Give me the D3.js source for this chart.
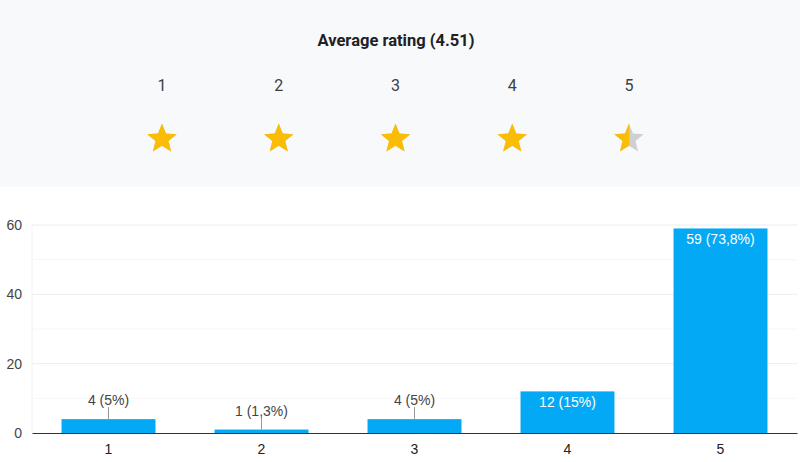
<!DOCTYPE html>
<html>
<head>
<meta charset="utf-8">
<script src="https://cdn.jsdelivr.net/npm/d3@7"></script>
<style>
  body { margin: 0; background: #fff; }
  svg { display: block; font-family: Arial, "Liberation Sans", sans-serif; }
</style>
</head>
<body>
<div id="vis-container"></div>
<script>
// data
var categories = ["1", "2", "3", "4", "5"];
var counts = [4, 1, 4, 12, 59];
var percentLabels = ["5%", "1,3%", "5%", "15%", "73,8%"];
var yTicks = [0, 20, 40, 60];
var minorTicks = [10, 30, 50];
var averageRating = 4.51;

// svg container
var width = 800;
var height = 462;

var svg = d3.select("#vis-container")
  .append("svg")
  .attr("width", width)
  .attr("height", height);

// ---- rating panel ----
svg.append("rect")
  .attr("x", 0).attr("y", 0)
  .attr("width", width).attr("height", 187)
  .attr("fill", "#f8f9fa");

svg.append("text")
  .attr("x", 396).attr("y", 46)
  .attr("text-anchor", "middle")
  .style("font-family", "Roboto, sans-serif")
  .style("font-weight", "bold")
  .style("font-size", "16.5px")
  .attr("fill", "#202124")
  .text("Average rating (" + averageRating.toFixed(2) + ")");

var starScale = d3.scalePoint().domain(categories).range([162, 629]);

svg.selectAll("text.starlabel")
  .data(categories)
  .enter()
  .append("text")
  .attr("class", "starlabel")
  .attr("x", function(d) { return starScale(d); })
  .attr("y", 91)
  .attr("text-anchor", "middle")
  .style("font-family", "Roboto, sans-serif")
  .style("font-size", "16px")
  .attr("fill", "#3c4043")
  .text(function(d) { return d; });

// star shape
var outerR = 15.5, innerR = 6.8;
var starPts = d3.range(10).map(function(i) {
  var a = -Math.PI / 2 + i * Math.PI / 5;
  var r = i % 2 === 0 ? outerR : innerR;
  return [r * Math.cos(a), r * Math.sin(a)];
});
var starPath = d3.line()(starPts) + "Z";

var defs = svg.append("defs");

var stars = svg.selectAll("g.star")
  .data(categories)
  .enter()
  .append("g")
  .attr("class", "star")
  .attr("transform", function(d) { return "translate(" + starScale(d) + ",139)"; });

stars.each(function(d, i) {
  var g = d3.select(this);
  var frac = Math.max(0, Math.min(1, averageRating - i));
  g.append("path").attr("d", starPath).attr("fill", "#d0d0d0");
  defs.append("clipPath").attr("id", "clip" + i)
    .append("rect")
    .attr("x", -outerR).attr("y", -outerR)
    .attr("width", 2 * outerR * frac).attr("height", 2 * outerR);
  g.append("path").attr("d", starPath).attr("fill", "#fbbc04")
    .attr("clip-path", "url(#clip" + i + ")");
});

// ---- bar chart ----
var plotLeft = 32, plotRight = 797;
var plotTop = 225, plotBottom = 433;

var xscale = d3.scaleBand()
  .domain(categories)
  .range([plotLeft, plotRight])
  .paddingInner(0.386)
  .paddingOuter(0.193);

var yscale = d3.scaleLinear().domain([0, 60]).range([plotBottom, plotTop]);

var chart = svg.append("g");

// minor gridlines
chart.selectAll("line.minor")
  .data(minorTicks)
  .enter()
  .append("line")
  .attr("x1", plotLeft).attr("x2", plotRight)
  .attr("y1", function(d) { return yscale(d); })
  .attr("y2", function(d) { return yscale(d); })
  .attr("stroke", "#f7f7f7");

// major gridlines
chart.selectAll("line.major")
  .data(yTicks.slice(1))
  .enter()
  .append("line")
  .attr("x1", plotLeft).attr("x2", plotRight)
  .attr("y1", function(d) { return yscale(d); })
  .attr("y2", function(d) { return yscale(d); })
  .attr("stroke", "#ececec");

chart.append("line")
  .attr("x1", plotLeft).attr("x2", plotLeft)
  .attr("y1", plotTop).attr("y2", plotBottom)
  .attr("stroke", "#f2f2f2");

// y axis labels
var yaxis = d3.axisLeft(yscale).tickValues(yTicks).tickSize(0).tickPadding(10);
var yaxisg = chart.append("g")
  .attr("transform", "translate(" + plotLeft + ",0)")
  .call(yaxis);
yaxisg.select(".domain").remove();
yaxisg.selectAll("text")
  .style("font-size", "14px")
  .style("font-family", "Arial, 'Liberation Sans', sans-serif")
  .attr("fill", "#444");

// bars
chart.selectAll("rect.bar")
  .data(counts)
  .enter()
  .append("rect")
  .attr("class", "bar")
  .attr("x", function(d, i) { return xscale(categories[i]); })
  .attr("y", function(d) { return yscale(d); })
  .attr("width", xscale.bandwidth())
  .attr("height", function(d) { return plotBottom - yscale(d); })
  .attr("fill", "#03a9f4");

// value labels
var insideMin = 10;
counts.forEach(function(d, i) {
  var cx = xscale(categories[i]) + xscale.bandwidth() / 2;
  var top = yscale(d);
  var label = d + " (" + percentLabels[i] + ")";
  if (d >= insideMin) {
    chart.append("text")
      .attr("x", cx).attr("y", top + 16)
      .attr("text-anchor", "middle")
      .style("font-size", "14px")
      .attr("fill", "#fff")
      .text(label);
  } else {
    chart.append("line")
      .attr("x1", cx).attr("x2", cx)
      .attr("y1", top).attr("y2", top - 12)
      .attr("stroke", "#999");
    chart.append("text")
      .attr("x", cx).attr("y", top - 14)
      .attr("text-anchor", "middle")
      .style("font-size", "14px")
      .attr("fill", "#444")
      .text(label);
  }
});

// x axis
var xaxis = d3.axisBottom(xscale).tickSize(0).tickPadding(11);
var xaxisg = chart.append("g")
  .attr("transform", "translate(0," + plotBottom + ")")
  .call(xaxis);
xaxisg.select(".domain").attr("stroke", "#333");
xaxisg.selectAll("text")
  .style("font-size", "14px")
  .style("font-family", "Arial, 'Liberation Sans', sans-serif")
  .attr("fill", "#222");
</script>
</body>
</html>
